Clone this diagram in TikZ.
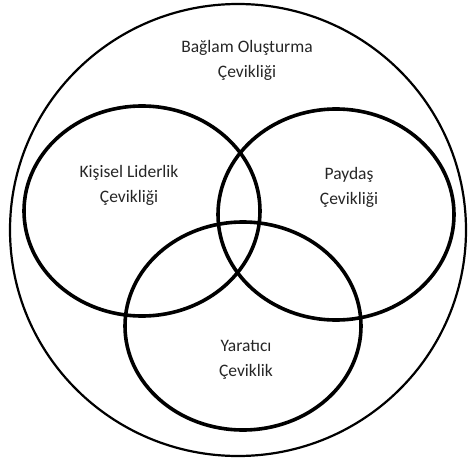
\documentclass[tikz,border=0pt]{standalone}
\usepackage{fontspec}
\setmainfont{Carlito}
\usetikzlibrary{shapes.geometric}
\begin{document}
\begin{tikzpicture}[x=1pt,y=-1pt,
  ring/.style={ellipse,draw=black,line width=3.6pt,inner sep=0pt,outer sep=0pt},
  outerring/.style={ellipse,draw=black,line width=2.2pt,inner sep=0pt,outer sep=0pt},
  lbl/.style={font=\fontsize{17.5}{25}\selectfont,text=black!85,align=center,inner sep=0pt}]
\useasboundingbox (0,0) rectangle (468,460);
\node[outerring,minimum width=456pt,minimum height=452pt] (ctx) at (238,230) {};
\node[ring,minimum width=236pt,minimum height=210pt] (pers) at (142,211) {};
\node[ring,minimum width=236pt,minimum height=211pt] (stake) at (336,214.5) {};
\node[ring,minimum width=236pt,minimum height=208pt] (crea) at (243,326) {};
\node[lbl] (tctx) at (247,60.5) {Bağlam Oluşturma\\Çevikliği};
\node[lbl] (tpers) at (129,185.5) {Kişisel Liderlik\\Çevikliği};
\node[lbl] (tstake) at (349,187.5) {Paydaş\\Çevikliği};
\node[lbl] (tcrea) at (246,359.5) {Yaratıcı\\Çeviklik};
\end{tikzpicture}
\end{document}
